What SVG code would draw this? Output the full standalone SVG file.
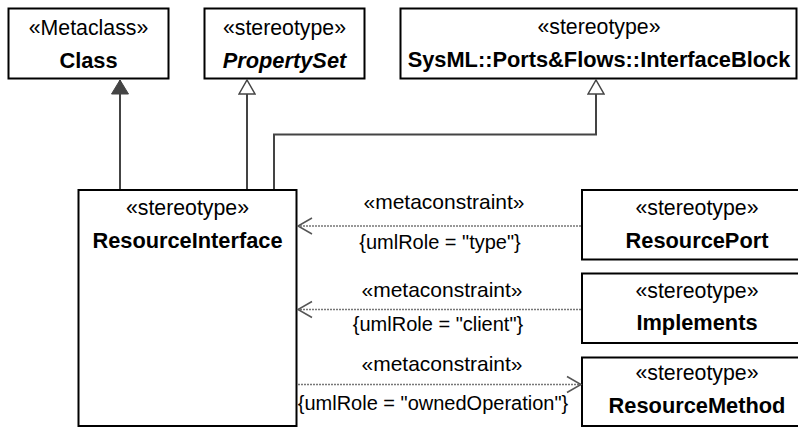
<svg xmlns="http://www.w3.org/2000/svg" width="798" height="427" viewBox="0 0 798 427">
<style>
.box{fill:#fff;stroke:#000;stroke-width:2}
text{font-family:"Liberation Sans",Arial,sans-serif;font-size:21.3px;fill:#000}
.c{text-anchor:middle}
.b{font-weight:bold;font-size:21.8px}
.bi{font-weight:bold;font-style:italic;font-size:21.8px}
.lbl{font-size:21px}
.con{font-size:20px}
.gen{fill:none;stroke:#444;stroke-width:2}
.dep{fill:none;stroke:#777;stroke-width:1.5;stroke-dasharray:2,1}
</style>
<defs>
<marker id="tri" markerWidth="18" markerHeight="18" viewBox="0 0 18 18" refX="16" refY="9" orient="auto" markerUnits="userSpaceOnUse">
<path d="M2,1 L16,9 L2,17 Z" fill="#fff" stroke="#444" stroke-width="1.5"/>
</marker>
<marker id="triF" markerWidth="18" markerHeight="18" viewBox="0 0 18 18" refX="16" refY="9" orient="auto" markerUnits="userSpaceOnUse">
<path d="M2,0.5 L16,9 L2,17.5 Z" fill="#444" stroke="#444" stroke-width="1"/>
</marker>
<marker id="arr" markerWidth="18" markerHeight="20" viewBox="0 0 18 20" refX="16" refY="10" orient="auto" markerUnits="userSpaceOnUse">
<path d="M2,2 L16,10 L2,18" fill="none" stroke="#555" stroke-width="1.5"/>
</marker>
</defs>

<g id="Class">
<rect class="box" x="8.5" y="8.5" width="160" height="70"/>
<text class="c" x="88.5" y="35">«Metaclass»</text>
<text class="c b" x="88.5" y="68">Class</text>
</g>

<g id="PropertySet">
<rect class="box" x="204.5" y="8.5" width="160" height="70"/>
<text class="c" x="284.5" y="35">«stereotype»</text>
<text class="c bi" x="284.5" y="68">PropertySet</text>
</g>

<g id="InterfaceBlock">
<rect class="box" x="400.5" y="8.5" width="396" height="70"/>
<text class="c" x="599" y="34">«stereotype»</text>
<text class="c b" x="599" y="67">SysML::Ports&amp;Flows::InterfaceBlock</text>
</g>

<g id="ResourceInterface">
<rect class="box" x="78.5" y="190" width="218" height="236"/>
<text class="c" x="187.5" y="215">«stereotype»</text>
<text class="c b" x="187.5" y="248">ResourceInterface</text>
</g>

<g id="ResourcePort">
<rect class="box" x="582" y="190" width="230" height="69.5"/>
<text class="c" x="697" y="215">«stereotype»</text>
<text class="c b" x="697" y="248">ResourcePort</text>
</g>

<g id="Implements">
<rect class="box" x="582" y="273.5" width="230" height="69.5"/>
<text class="c" x="697" y="298">«stereotype»</text>
<text class="c b" x="697" y="330">Implements</text>
</g>

<g id="ResourceMethod">
<rect class="box" x="582" y="357.5" width="230" height="68.5"/>
<text class="c" x="697" y="380">«stereotype»</text>
<text class="c b" x="697" y="413">ResourceMethod</text>
</g>

<g id="connectors">
<path class="gen" d="M120,189 V80" marker-end="url(#triF)"/>
<path class="gen" d="M247,189 V80" marker-end="url(#tri)"/>
<path class="gen" d="M274,189 V134.5 H596 V80" marker-end="url(#tri)"/>
<path class="dep" d="M581,226 H298" marker-end="url(#arr)"/>
<path class="dep" d="M581,309.5 H298" marker-end="url(#arr)"/>
<path class="dep" d="M298,384.5 H581" marker-end="url(#arr)"/>
<text class="c lbl" x="444" y="209">«metaconstraint»</text>
<text class="c con" x="440" y="249">{umlRole = "type"}</text>
<text class="c lbl" x="442" y="297">«metaconstraint»</text>
<text class="c con" x="438" y="331">{umlRole = "client"}</text>
<text class="c lbl" x="442" y="371">«metaconstraint»</text>
<text class="c con" x="433" y="410">{umlRole = "ownedOperation"}</text>
</g>
</svg>
